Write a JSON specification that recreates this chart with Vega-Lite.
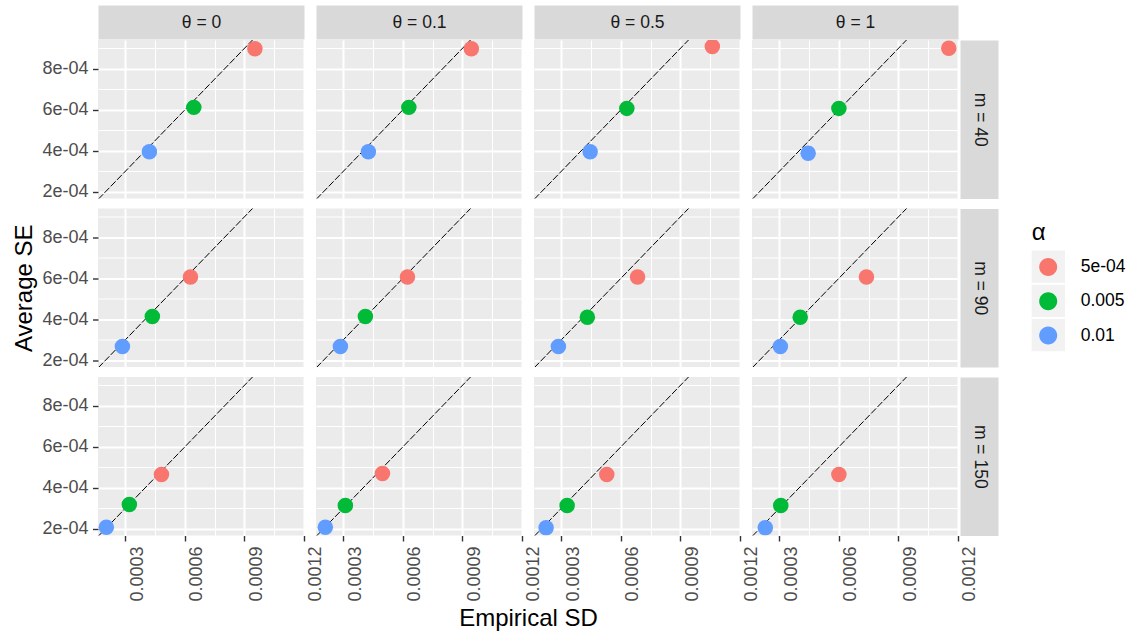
{
  "$schema": "https://vega.github.io/schema/vega-lite/v6.json",
  "padding": {"left": 12, "top": 13, "right": 5, "bottom": 2},
  "background": "white",
  "bounds": "flush",
  "spacing": {"row": 9.5, "column": 12},
  "columns": 4,
  "resolve": {"scale": {"color": "shared"}, "legend": {"color": "shared"}},
  "config": {
    "view": {"fill": "#EBEBEB", "stroke": null},
    "font": "Liberation Sans"
  },
  "datasets": {
    "pts": [
      {"theta": 0, "m": 40, "alpha": "5e-04", "sd": 0.000953, "se": 0.000898},
      {"theta": 0, "m": 40, "alpha": "0.005", "sd": 0.000645, "se": 0.000612},
      {"theta": 0, "m": 40, "alpha": "0.01", "sd": 0.000421, "se": 0.000395},
      {"theta": 0.1, "m": 40, "alpha": "5e-04", "sd": 0.000945, "se": 0.000898},
      {"theta": 0.1, "m": 40, "alpha": "0.005", "sd": 0.00063, "se": 0.000612},
      {"theta": 0.1, "m": 40, "alpha": "0.01", "sd": 0.000426, "se": 0.000395},
      {"theta": 0.5, "m": 40, "alpha": "5e-04", "sd": 0.001061, "se": 0.000909},
      {"theta": 0.5, "m": 40, "alpha": "0.005", "sd": 0.00063, "se": 0.000607},
      {"theta": 0.5, "m": 40, "alpha": "0.01", "sd": 0.000445, "se": 0.000395},
      {"theta": 1, "m": 40, "alpha": "5e-04", "sd": 0.001154, "se": 0.000901},
      {"theta": 1, "m": 40, "alpha": "0.005", "sd": 0.0006, "se": 0.000607},
      {"theta": 1, "m": 40, "alpha": "0.01", "sd": 0.000445, "se": 0.000388},
      {"theta": 0, "m": 90, "alpha": "5e-04", "sd": 0.000628, "se": 0.000606},
      {"theta": 0, "m": 90, "alpha": "0.005", "sd": 0.000436, "se": 0.000414},
      {"theta": 0, "m": 90, "alpha": "0.01", "sd": 0.000285, "se": 0.000267},
      {"theta": 0.1, "m": 90, "alpha": "5e-04", "sd": 0.000623, "se": 0.000606},
      {"theta": 0.1, "m": 90, "alpha": "0.005", "sd": 0.000411, "se": 0.000414},
      {"theta": 0.1, "m": 90, "alpha": "0.01", "sd": 0.000285, "se": 0.000267},
      {"theta": 0.5, "m": 90, "alpha": "5e-04", "sd": 0.000684, "se": 0.000606},
      {"theta": 0.5, "m": 90, "alpha": "0.005", "sd": 0.000431, "se": 0.00041},
      {"theta": 0.5, "m": 90, "alpha": "0.01", "sd": 0.000285, "se": 0.000267},
      {"theta": 1, "m": 90, "alpha": "5e-04", "sd": 0.000739, "se": 0.000606},
      {"theta": 1, "m": 90, "alpha": "0.005", "sd": 0.000405, "se": 0.00041},
      {"theta": 1, "m": 90, "alpha": "0.01", "sd": 0.000305, "se": 0.000267},
      {"theta": 0, "m": 150, "alpha": "5e-04", "sd": 0.000482, "se": 0.000465},
      {"theta": 0, "m": 150, "alpha": "0.005", "sd": 0.00032, "se": 0.000318},
      {"theta": 0, "m": 150, "alpha": "0.01", "sd": 0.000204, "se": 0.000207},
      {"theta": 0.1, "m": 150, "alpha": "5e-04", "sd": 0.000497, "se": 0.00047},
      {"theta": 0.1, "m": 150, "alpha": "0.005", "sd": 0.00031, "se": 0.000313},
      {"theta": 0.1, "m": 150, "alpha": "0.01", "sd": 0.000209, "se": 0.000207},
      {"theta": 0.5, "m": 150, "alpha": "5e-04", "sd": 0.000529, "se": 0.000465},
      {"theta": 0.5, "m": 150, "alpha": "0.005", "sd": 0.000329, "se": 0.000313},
      {"theta": 0.5, "m": 150, "alpha": "0.01", "sd": 0.000223, "se": 0.000205},
      {"theta": 1, "m": 150, "alpha": "5e-04", "sd": 0.0006, "se": 0.000465},
      {"theta": 1, "m": 150, "alpha": "0.005", "sd": 0.000307, "se": 0.000313},
      {"theta": 1, "m": 150, "alpha": "0.01", "sd": 0.000229, "se": 0.000205}
    ],
    "diag": [
      {"sd": 0.0001, "se": 0.0001},
      {"sd": 0.0012, "se": 0.0012}
    ]
  },
  "concat": [
    {
      "width": 206, "height": 158.5,
      "resolve": {"axis": {"x": "independent", "y": "independent"}},
      "layer": [
        {
          "data": {"name": "diag"},
          "mark": {"type": "line", "clip": true, "color": "black", "strokeWidth": 1, "strokeDash": [7, 2]},
          "encoding": {
            "x": {"field": "sd", "type": "quantitative", "scale": {"domain": [0.000162, 0.0012005], "nice": false, "zero": false},
              "axis": {"orient": "bottom", "values": [0.0003, 0.00045, 0.0006, 0.00075, 0.0009, 0.00105, 0.0012], "labels": false, "ticks": false, "domain": false, "title": null, "grid": true, "gridColor": "#FFFFFF", "gridWidth": {"condition": {"test": "round(datum.value*1e5) % 30 == 0", "value": 2}, "value": 1.1}}},
            "y": {"field": "se", "type": "quantitative", "scale": {"domain": [0.000167, 0.000941], "nice": false, "zero": false},
              "axis": {"orient": "left", "values": [0.0002, 0.0003, 0.0004, 0.0005, 0.0006, 0.0007, 0.0008, 0.0009], "labelExpr": "round(datum.value*1e4) % 2 == 0 ? round(datum.value*1e4) + 'e-04' : ''", "labelFontSize": 18, "labelColor": "#4D4D4D", "labelPadding": 4.5, "labelOverlap": false, "labelFlush": false, "labelBound": false, "ticks": true, "tickSize": 5.5, "tickWidth": 1.4, "tickColor": "#333333", "tickOpacity": {"condition": {"test": "round(datum.value*1e4) % 2 != 0", "value": 0}, "value": 1}, "domain": false, "title": null, "grid": true, "gridColor": "#FFFFFF", "gridWidth": {"condition": {"test": "round(datum.value*1e4) % 2 == 0", "value": 2}, "value": 1.1}}}
          }
        },
        {
          "data": {"name": "pts"},
          "transform": [{"filter": "datum.theta == 0 && datum.m == 40"}],
          "mark": {"type": "circle", "size": 240, "opacity": 1, "clip": true},
          "encoding": {
            "x": {"field": "sd", "type": "quantitative", "scale": {"domain": [0.000162, 0.0012005], "nice": false, "zero": false},
              "axis": {"orient": "top", "offset": 18, "domain": true, "domainColor": "#D9D9D9", "domainWidth": 34, "domainCap": "butt", "ticks": false, "labels": false, "grid": false, "title": "θ = 0", "titleFontSize": 17.5, "titleFontWeight": "normal", "titleColor": "#1A1A1A", "titleY": 0, "titleBaseline": "middle", "titlePadding": 0}},
            "y": {"field": "se", "type": "quantitative", "scale": {"domain": [0.000167, 0.000941], "nice": false, "zero": false}, "axis": null},
            "color": {"field": "alpha", "type": "nominal",
              "scale": {"domain": ["5e-04", "0.005", "0.01"], "range": ["#F8766D", "#00BA38", "#619CFF"]},
              "legend": {"orient": "none", "legendX": 933.7, "legendY": 180.5, "title": "α", "titleFontSize": 24, "titleFontWeight": "normal", "titleColor": "#000000", "titlePadding": 6,
                "labelFontSize": 17.5, "labelColor": "#000000",
                "symbolType": "M-1,-0.955M1,0.955M0.545,0A0.545,0.545,0,1,1,-0.545,0A0.545,0.545,0,1,1,0.545,0Z",
                "symbolSize": 1089, "symbolStrokeWidth": 0, "symbolOpacity": 1, "rowPadding": 1.3, "labelOffset": 16,
                "encode": {
                  "entries": {"update": {"fill": {"value": {"gradient": "linear", "x1": 0, "y1": 0, "x2": 1, "y2": 0,
                    "stops": [{"offset": 0, "color": "#F2F2F2"}, {"offset": 0.358, "color": "#F2F2F2"}, {"offset": 0.358, "color": "#FFFFFF"}, {"offset": 1, "color": "#FFFFFF"}]}}}}
                }}}
          }
        }
      ]
    },
    {
      "width": 206, "height": 158.5,
      "resolve": {"axis": {"x": "independent", "y": "independent"}},
      "layer": [
        {
          "data": {"name": "diag"},
          "mark": {"type": "line", "clip": true, "color": "black", "strokeWidth": 1, "strokeDash": [7, 2]},
          "encoding": {
            "x": {"field": "sd", "type": "quantitative", "scale": {"domain": [0.000162, 0.0012005], "nice": false, "zero": false},
              "axis": {"orient": "bottom", "values": [0.0003, 0.00045, 0.0006, 0.00075, 0.0009, 0.00105, 0.0012], "labels": false, "ticks": false, "domain": false, "title": null, "grid": true, "gridColor": "#FFFFFF", "gridWidth": {"condition": {"test": "round(datum.value*1e5) % 30 == 0", "value": 2}, "value": 1.1}}},
            "y": {"field": "se", "type": "quantitative", "scale": {"domain": [0.000167, 0.000941], "nice": false, "zero": false},
              "axis": {"orient": "left", "values": [0.0002, 0.0003, 0.0004, 0.0005, 0.0006, 0.0007, 0.0008, 0.0009], "labels": false, "ticks": false, "domain": false, "title": null, "grid": true, "gridColor": "#FFFFFF", "gridWidth": {"condition": {"test": "round(datum.value*1e4) % 2 == 0", "value": 2}, "value": 1.1}}}
          }
        },
        {
          "data": {"name": "pts"},
          "transform": [{"filter": "datum.theta == 0.1 && datum.m == 40"}],
          "mark": {"type": "circle", "size": 240, "opacity": 1, "clip": true},
          "encoding": {
            "x": {"field": "sd", "type": "quantitative", "scale": {"domain": [0.000162, 0.0012005], "nice": false, "zero": false},
              "axis": {"orient": "top", "offset": 18, "domain": true, "domainColor": "#D9D9D9", "domainWidth": 34, "domainCap": "butt", "ticks": false, "labels": false, "grid": false, "title": "θ = 0.1", "titleFontSize": 17.5, "titleFontWeight": "normal", "titleColor": "#1A1A1A", "titleY": 0, "titleBaseline": "middle", "titlePadding": 0}},
            "y": {"field": "se", "type": "quantitative", "scale": {"domain": [0.000167, 0.000941], "nice": false, "zero": false}, "axis": null},
            "color": {"field": "alpha", "type": "nominal", "scale": {"domain": ["5e-04", "0.005", "0.01"], "range": ["#F8766D", "#00BA38", "#619CFF"]}}
          }
        }
      ]
    },
    {
      "width": 206, "height": 158.5,
      "resolve": {"axis": {"x": "independent", "y": "independent"}},
      "layer": [
        {
          "data": {"name": "diag"},
          "mark": {"type": "line", "clip": true, "color": "black", "strokeWidth": 1, "strokeDash": [7, 2]},
          "encoding": {
            "x": {"field": "sd", "type": "quantitative", "scale": {"domain": [0.000162, 0.0012005], "nice": false, "zero": false},
              "axis": {"orient": "bottom", "values": [0.0003, 0.00045, 0.0006, 0.00075, 0.0009, 0.00105, 0.0012], "labels": false, "ticks": false, "domain": false, "title": null, "grid": true, "gridColor": "#FFFFFF", "gridWidth": {"condition": {"test": "round(datum.value*1e5) % 30 == 0", "value": 2}, "value": 1.1}}},
            "y": {"field": "se", "type": "quantitative", "scale": {"domain": [0.000167, 0.000941], "nice": false, "zero": false},
              "axis": {"orient": "left", "values": [0.0002, 0.0003, 0.0004, 0.0005, 0.0006, 0.0007, 0.0008, 0.0009], "labels": false, "ticks": false, "domain": false, "title": null, "grid": true, "gridColor": "#FFFFFF", "gridWidth": {"condition": {"test": "round(datum.value*1e4) % 2 == 0", "value": 2}, "value": 1.1}}}
          }
        },
        {
          "data": {"name": "pts"},
          "transform": [{"filter": "datum.theta == 0.5 && datum.m == 40"}],
          "mark": {"type": "circle", "size": 240, "opacity": 1, "clip": true},
          "encoding": {
            "x": {"field": "sd", "type": "quantitative", "scale": {"domain": [0.000162, 0.0012005], "nice": false, "zero": false},
              "axis": {"orient": "top", "offset": 18, "domain": true, "domainColor": "#D9D9D9", "domainWidth": 34, "domainCap": "butt", "ticks": false, "labels": false, "grid": false, "title": "θ = 0.5", "titleFontSize": 17.5, "titleFontWeight": "normal", "titleColor": "#1A1A1A", "titleY": 0, "titleBaseline": "middle", "titlePadding": 0}},
            "y": {"field": "se", "type": "quantitative", "scale": {"domain": [0.000167, 0.000941], "nice": false, "zero": false}, "axis": null},
            "color": {"field": "alpha", "type": "nominal", "scale": {"domain": ["5e-04", "0.005", "0.01"], "range": ["#F8766D", "#00BA38", "#619CFF"]}}
          }
        }
      ]
    },
    {
      "width": 206, "height": 158.5,
      "resolve": {"axis": {"x": "independent", "y": "independent"}},
      "layer": [
        {
          "data": {"name": "diag"},
          "mark": {"type": "line", "clip": true, "color": "black", "strokeWidth": 1, "strokeDash": [7, 2]},
          "encoding": {
            "x": {"field": "sd", "type": "quantitative", "scale": {"domain": [0.000162, 0.0012005], "nice": false, "zero": false},
              "axis": {"orient": "bottom", "values": [0.0003, 0.00045, 0.0006, 0.00075, 0.0009, 0.00105, 0.0012], "labels": false, "ticks": false, "domain": false, "title": null, "grid": true, "gridColor": "#FFFFFF", "gridWidth": {"condition": {"test": "round(datum.value*1e5) % 30 == 0", "value": 2}, "value": 1.1}}},
            "y": {"field": "se", "type": "quantitative", "scale": {"domain": [0.000167, 0.000941], "nice": false, "zero": false},
              "axis": {"orient": "left", "values": [0.0002, 0.0003, 0.0004, 0.0005, 0.0006, 0.0007, 0.0008, 0.0009], "labels": false, "ticks": false, "domain": false, "title": null, "grid": true, "gridColor": "#FFFFFF", "gridWidth": {"condition": {"test": "round(datum.value*1e4) % 2 == 0", "value": 2}, "value": 1.1}}}
          }
        },
        {
          "data": {"name": "pts"},
          "transform": [{"filter": "datum.theta == 1 && datum.m == 40"}],
          "mark": {"type": "circle", "size": 240, "opacity": 1, "clip": true},
          "encoding": {
            "x": {"field": "sd", "type": "quantitative", "scale": {"domain": [0.000162, 0.0012005], "nice": false, "zero": false},
              "axis": {"orient": "top", "offset": 18, "domain": true, "domainColor": "#D9D9D9", "domainWidth": 34, "domainCap": "butt", "ticks": false, "labels": false, "grid": false, "title": "θ = 1", "titleFontSize": 17.5, "titleFontWeight": "normal", "titleColor": "#1A1A1A", "titleY": 0, "titleBaseline": "middle", "titlePadding": 0}},
            "y": {"field": "se", "type": "quantitative", "scale": {"domain": [0.000167, 0.000941], "nice": false, "zero": false},
              "axis": {"orient": "right", "offset": 21, "domain": true, "domainColor": "#D9D9D9", "domainWidth": 38, "domainCap": "butt", "ticks": false, "labels": false, "grid": false, "title": "m = 40", "titleFontSize": 17.5, "titleFontWeight": "normal", "titleColor": "#1A1A1A", "titleAngle": 90, "titleX": 0, "titleY": 79.25, "titleBaseline": "middle", "titleAlign": "center", "titlePadding": 0}},
            "color": {"field": "alpha", "type": "nominal", "scale": {"domain": ["5e-04", "0.005", "0.01"], "range": ["#F8766D", "#00BA38", "#619CFF"]}}
          }
        }
      ]
    },
    {
      "width": 206, "height": 158.5,
      "resolve": {"axis": {"x": "independent", "y": "independent"}},
      "layer": [
        {
          "data": {"name": "diag"},
          "mark": {"type": "line", "clip": true, "color": "black", "strokeWidth": 1, "strokeDash": [7, 2]},
          "encoding": {
            "x": {"field": "sd", "type": "quantitative", "scale": {"domain": [0.000162, 0.0012005], "nice": false, "zero": false},
              "axis": {"orient": "bottom", "values": [0.0003, 0.00045, 0.0006, 0.00075, 0.0009, 0.00105, 0.0012], "labels": false, "ticks": false, "domain": false, "title": null, "grid": true, "gridColor": "#FFFFFF", "gridWidth": {"condition": {"test": "round(datum.value*1e5) % 30 == 0", "value": 2}, "value": 1.1}}},
            "y": {"field": "se", "type": "quantitative", "scale": {"domain": [0.000167, 0.000941], "nice": false, "zero": false},
              "axis": {"orient": "left", "values": [0.0002, 0.0003, 0.0004, 0.0005, 0.0006, 0.0007, 0.0008, 0.0009], "labelExpr": "round(datum.value*1e4) % 2 == 0 ? round(datum.value*1e4) + 'e-04' : ''", "labelFontSize": 18, "labelColor": "#4D4D4D", "labelPadding": 4.5, "labelOverlap": false, "labelFlush": false, "labelBound": false, "ticks": true, "tickSize": 5.5, "tickWidth": 1.4, "tickColor": "#333333", "tickOpacity": {"condition": {"test": "round(datum.value*1e4) % 2 != 0", "value": 0}, "value": 1}, "domain": false, "title": "Average SE", "titleFontSize": 24, "titleFontWeight": "normal", "titleColor": "#000000", "titlePadding": 5, "grid": true, "gridColor": "#FFFFFF", "gridWidth": {"condition": {"test": "round(datum.value*1e4) % 2 == 0", "value": 2}, "value": 1.1}}}
          }
        },
        {
          "data": {"name": "pts"},
          "transform": [{"filter": "datum.theta == 0 && datum.m == 90"}],
          "mark": {"type": "circle", "size": 240, "opacity": 1, "clip": true},
          "encoding": {
            "x": {"field": "sd", "type": "quantitative", "scale": {"domain": [0.000162, 0.0012005], "nice": false, "zero": false}, "axis": null},
            "y": {"field": "se", "type": "quantitative", "scale": {"domain": [0.000167, 0.000941], "nice": false, "zero": false}, "axis": null},
            "color": {"field": "alpha", "type": "nominal", "scale": {"domain": ["5e-04", "0.005", "0.01"], "range": ["#F8766D", "#00BA38", "#619CFF"]}}
          }
        }
      ]
    },
    {
      "width": 206, "height": 158.5,
      "resolve": {"axis": {"x": "independent", "y": "independent"}},
      "layer": [
        {
          "data": {"name": "diag"},
          "mark": {"type": "line", "clip": true, "color": "black", "strokeWidth": 1, "strokeDash": [7, 2]},
          "encoding": {
            "x": {"field": "sd", "type": "quantitative", "scale": {"domain": [0.000162, 0.0012005], "nice": false, "zero": false},
              "axis": {"orient": "bottom", "values": [0.0003, 0.00045, 0.0006, 0.00075, 0.0009, 0.00105, 0.0012], "labels": false, "ticks": false, "domain": false, "title": null, "grid": true, "gridColor": "#FFFFFF", "gridWidth": {"condition": {"test": "round(datum.value*1e5) % 30 == 0", "value": 2}, "value": 1.1}}},
            "y": {"field": "se", "type": "quantitative", "scale": {"domain": [0.000167, 0.000941], "nice": false, "zero": false},
              "axis": {"orient": "left", "values": [0.0002, 0.0003, 0.0004, 0.0005, 0.0006, 0.0007, 0.0008, 0.0009], "labels": false, "ticks": false, "domain": false, "title": null, "grid": true, "gridColor": "#FFFFFF", "gridWidth": {"condition": {"test": "round(datum.value*1e4) % 2 == 0", "value": 2}, "value": 1.1}}}
          }
        },
        {
          "data": {"name": "pts"},
          "transform": [{"filter": "datum.theta == 0.1 && datum.m == 90"}],
          "mark": {"type": "circle", "size": 240, "opacity": 1, "clip": true},
          "encoding": {
            "x": {"field": "sd", "type": "quantitative", "scale": {"domain": [0.000162, 0.0012005], "nice": false, "zero": false}, "axis": null},
            "y": {"field": "se", "type": "quantitative", "scale": {"domain": [0.000167, 0.000941], "nice": false, "zero": false}, "axis": null},
            "color": {"field": "alpha", "type": "nominal", "scale": {"domain": ["5e-04", "0.005", "0.01"], "range": ["#F8766D", "#00BA38", "#619CFF"]}}
          }
        }
      ]
    },
    {
      "width": 206, "height": 158.5,
      "resolve": {"axis": {"x": "independent", "y": "independent"}},
      "layer": [
        {
          "data": {"name": "diag"},
          "mark": {"type": "line", "clip": true, "color": "black", "strokeWidth": 1, "strokeDash": [7, 2]},
          "encoding": {
            "x": {"field": "sd", "type": "quantitative", "scale": {"domain": [0.000162, 0.0012005], "nice": false, "zero": false},
              "axis": {"orient": "bottom", "values": [0.0003, 0.00045, 0.0006, 0.00075, 0.0009, 0.00105, 0.0012], "labels": false, "ticks": false, "domain": false, "title": null, "grid": true, "gridColor": "#FFFFFF", "gridWidth": {"condition": {"test": "round(datum.value*1e5) % 30 == 0", "value": 2}, "value": 1.1}}},
            "y": {"field": "se", "type": "quantitative", "scale": {"domain": [0.000167, 0.000941], "nice": false, "zero": false},
              "axis": {"orient": "left", "values": [0.0002, 0.0003, 0.0004, 0.0005, 0.0006, 0.0007, 0.0008, 0.0009], "labels": false, "ticks": false, "domain": false, "title": null, "grid": true, "gridColor": "#FFFFFF", "gridWidth": {"condition": {"test": "round(datum.value*1e4) % 2 == 0", "value": 2}, "value": 1.1}}}
          }
        },
        {
          "data": {"name": "pts"},
          "transform": [{"filter": "datum.theta == 0.5 && datum.m == 90"}],
          "mark": {"type": "circle", "size": 240, "opacity": 1, "clip": true},
          "encoding": {
            "x": {"field": "sd", "type": "quantitative", "scale": {"domain": [0.000162, 0.0012005], "nice": false, "zero": false}, "axis": null},
            "y": {"field": "se", "type": "quantitative", "scale": {"domain": [0.000167, 0.000941], "nice": false, "zero": false}, "axis": null},
            "color": {"field": "alpha", "type": "nominal", "scale": {"domain": ["5e-04", "0.005", "0.01"], "range": ["#F8766D", "#00BA38", "#619CFF"]}}
          }
        }
      ]
    },
    {
      "width": 206, "height": 158.5,
      "resolve": {"axis": {"x": "independent", "y": "independent"}},
      "layer": [
        {
          "data": {"name": "diag"},
          "mark": {"type": "line", "clip": true, "color": "black", "strokeWidth": 1, "strokeDash": [7, 2]},
          "encoding": {
            "x": {"field": "sd", "type": "quantitative", "scale": {"domain": [0.000162, 0.0012005], "nice": false, "zero": false},
              "axis": {"orient": "bottom", "values": [0.0003, 0.00045, 0.0006, 0.00075, 0.0009, 0.00105, 0.0012], "labels": false, "ticks": false, "domain": false, "title": null, "grid": true, "gridColor": "#FFFFFF", "gridWidth": {"condition": {"test": "round(datum.value*1e5) % 30 == 0", "value": 2}, "value": 1.1}}},
            "y": {"field": "se", "type": "quantitative", "scale": {"domain": [0.000167, 0.000941], "nice": false, "zero": false},
              "axis": {"orient": "left", "values": [0.0002, 0.0003, 0.0004, 0.0005, 0.0006, 0.0007, 0.0008, 0.0009], "labels": false, "ticks": false, "domain": false, "title": null, "grid": true, "gridColor": "#FFFFFF", "gridWidth": {"condition": {"test": "round(datum.value*1e4) % 2 == 0", "value": 2}, "value": 1.1}}}
          }
        },
        {
          "data": {"name": "pts"},
          "transform": [{"filter": "datum.theta == 1 && datum.m == 90"}],
          "mark": {"type": "circle", "size": 240, "opacity": 1, "clip": true},
          "encoding": {
            "x": {"field": "sd", "type": "quantitative", "scale": {"domain": [0.000162, 0.0012005], "nice": false, "zero": false}, "axis": null},
            "y": {"field": "se", "type": "quantitative", "scale": {"domain": [0.000167, 0.000941], "nice": false, "zero": false},
              "axis": {"orient": "right", "offset": 21, "domain": true, "domainColor": "#D9D9D9", "domainWidth": 38, "domainCap": "butt", "ticks": false, "labels": false, "grid": false, "title": "m = 90", "titleFontSize": 17.5, "titleFontWeight": "normal", "titleColor": "#1A1A1A", "titleAngle": 90, "titleX": 0, "titleY": 79.25, "titleBaseline": "middle", "titleAlign": "center", "titlePadding": 0}},
            "color": {"field": "alpha", "type": "nominal", "scale": {"domain": ["5e-04", "0.005", "0.01"], "range": ["#F8766D", "#00BA38", "#619CFF"]}}
          }
        }
      ]
    },
    {
      "width": 206, "height": 158.5,
      "resolve": {"axis": {"x": "independent", "y": "independent"}},
      "layer": [
        {
          "data": {"name": "diag"},
          "mark": {"type": "line", "clip": true, "color": "black", "strokeWidth": 1, "strokeDash": [7, 2]},
          "encoding": {
            "x": {"field": "sd", "type": "quantitative", "scale": {"domain": [0.000162, 0.0012005], "nice": false, "zero": false},
              "axis": {"orient": "bottom", "values": [0.0003, 0.00045, 0.0006, 0.00075, 0.0009, 0.00105, 0.0012], "labelExpr": "round(datum.value*1e5) % 30 == 0 ? format(datum.value, '.4f') : ''", "labelAngle": 270, "labelAlign": "right", "labelBaseline": "top", "labelOffset": 3, "labelFontSize": 18, "labelColor": "#4D4D4D", "labelPadding": 5, "labelOverlap": false, "labelFlush": false, "labelBound": false, "ticks": true, "tickSize": 5.5, "tickWidth": 1.4, "tickColor": "#333333", "tickOpacity": {"condition": {"test": "round(datum.value*1e5) % 30 != 0", "value": 0}, "value": 1}, "domain": false, "title": null, "grid": true, "gridColor": "#FFFFFF", "gridWidth": {"condition": {"test": "round(datum.value*1e5) % 30 == 0", "value": 2}, "value": 1.1}}},
            "y": {"field": "se", "type": "quantitative", "scale": {"domain": [0.000167, 0.000941], "nice": false, "zero": false},
              "axis": {"orient": "left", "values": [0.0002, 0.0003, 0.0004, 0.0005, 0.0006, 0.0007, 0.0008, 0.0009], "labelExpr": "round(datum.value*1e4) % 2 == 0 ? round(datum.value*1e4) + 'e-04' : ''", "labelFontSize": 18, "labelColor": "#4D4D4D", "labelPadding": 4.5, "labelOverlap": false, "labelFlush": false, "labelBound": false, "ticks": true, "tickSize": 5.5, "tickWidth": 1.4, "tickColor": "#333333", "tickOpacity": {"condition": {"test": "round(datum.value*1e4) % 2 != 0", "value": 0}, "value": 1}, "domain": false, "title": null, "grid": true, "gridColor": "#FFFFFF", "gridWidth": {"condition": {"test": "round(datum.value*1e4) % 2 == 0", "value": 2}, "value": 1.1}}}
          }
        },
        {
          "data": {"name": "pts"},
          "transform": [{"filter": "datum.theta == 0 && datum.m == 150"}],
          "mark": {"type": "circle", "size": 240, "opacity": 1, "clip": true},
          "encoding": {
            "x": {"field": "sd", "type": "quantitative", "scale": {"domain": [0.000162, 0.0012005], "nice": false, "zero": false}, "axis": null},
            "y": {"field": "se", "type": "quantitative", "scale": {"domain": [0.000167, 0.000941], "nice": false, "zero": false}, "axis": null},
            "color": {"field": "alpha", "type": "nominal", "scale": {"domain": ["5e-04", "0.005", "0.01"], "range": ["#F8766D", "#00BA38", "#619CFF"]}}
          }
        }
      ]
    },
    {
      "width": 206, "height": 158.5,
      "resolve": {"axis": {"x": "independent", "y": "independent"}},
      "layer": [
        {
          "data": {"name": "diag"},
          "mark": {"type": "line", "clip": true, "color": "black", "strokeWidth": 1, "strokeDash": [7, 2]},
          "encoding": {
            "x": {"field": "sd", "type": "quantitative", "scale": {"domain": [0.000162, 0.0012005], "nice": false, "zero": false},
              "axis": {"orient": "bottom", "values": [0.0003, 0.00045, 0.0006, 0.00075, 0.0009, 0.00105, 0.0012], "labelExpr": "round(datum.value*1e5) % 30 == 0 ? format(datum.value, '.4f') : ''", "labelAngle": 270, "labelAlign": "right", "labelBaseline": "top", "labelOffset": 3, "labelFontSize": 18, "labelColor": "#4D4D4D", "labelPadding": 5, "labelOverlap": false, "labelFlush": false, "labelBound": false, "ticks": true, "tickSize": 5.5, "tickWidth": 1.4, "tickColor": "#333333", "tickOpacity": {"condition": {"test": "round(datum.value*1e5) % 30 != 0", "value": 0}, "value": 1}, "domain": false, "title": "Empirical SD", "titleX": 212, "titleFontSize": 24, "titleFontWeight": "normal", "titleColor": "#000000", "titlePadding": 5, "grid": true, "gridColor": "#FFFFFF", "gridWidth": {"condition": {"test": "round(datum.value*1e5) % 30 == 0", "value": 2}, "value": 1.1}}},
            "y": {"field": "se", "type": "quantitative", "scale": {"domain": [0.000167, 0.000941], "nice": false, "zero": false},
              "axis": {"orient": "left", "values": [0.0002, 0.0003, 0.0004, 0.0005, 0.0006, 0.0007, 0.0008, 0.0009], "labels": false, "ticks": false, "domain": false, "title": null, "grid": true, "gridColor": "#FFFFFF", "gridWidth": {"condition": {"test": "round(datum.value*1e4) % 2 == 0", "value": 2}, "value": 1.1}}}
          }
        },
        {
          "data": {"name": "pts"},
          "transform": [{"filter": "datum.theta == 0.1 && datum.m == 150"}],
          "mark": {"type": "circle", "size": 240, "opacity": 1, "clip": true},
          "encoding": {
            "x": {"field": "sd", "type": "quantitative", "scale": {"domain": [0.000162, 0.0012005], "nice": false, "zero": false}, "axis": null},
            "y": {"field": "se", "type": "quantitative", "scale": {"domain": [0.000167, 0.000941], "nice": false, "zero": false}, "axis": null},
            "color": {"field": "alpha", "type": "nominal", "scale": {"domain": ["5e-04", "0.005", "0.01"], "range": ["#F8766D", "#00BA38", "#619CFF"]}}
          }
        }
      ]
    },
    {
      "width": 206, "height": 158.5,
      "resolve": {"axis": {"x": "independent", "y": "independent"}},
      "layer": [
        {
          "data": {"name": "diag"},
          "mark": {"type": "line", "clip": true, "color": "black", "strokeWidth": 1, "strokeDash": [7, 2]},
          "encoding": {
            "x": {"field": "sd", "type": "quantitative", "scale": {"domain": [0.000162, 0.0012005], "nice": false, "zero": false},
              "axis": {"orient": "bottom", "values": [0.0003, 0.00045, 0.0006, 0.00075, 0.0009, 0.00105, 0.0012], "labelExpr": "round(datum.value*1e5) % 30 == 0 ? format(datum.value, '.4f') : ''", "labelAngle": 270, "labelAlign": "right", "labelBaseline": "top", "labelOffset": 3, "labelFontSize": 18, "labelColor": "#4D4D4D", "labelPadding": 5, "labelOverlap": false, "labelFlush": false, "labelBound": false, "ticks": true, "tickSize": 5.5, "tickWidth": 1.4, "tickColor": "#333333", "tickOpacity": {"condition": {"test": "round(datum.value*1e5) % 30 != 0", "value": 0}, "value": 1}, "domain": false, "title": null, "grid": true, "gridColor": "#FFFFFF", "gridWidth": {"condition": {"test": "round(datum.value*1e5) % 30 == 0", "value": 2}, "value": 1.1}}},
            "y": {"field": "se", "type": "quantitative", "scale": {"domain": [0.000167, 0.000941], "nice": false, "zero": false},
              "axis": {"orient": "left", "values": [0.0002, 0.0003, 0.0004, 0.0005, 0.0006, 0.0007, 0.0008, 0.0009], "labels": false, "ticks": false, "domain": false, "title": null, "grid": true, "gridColor": "#FFFFFF", "gridWidth": {"condition": {"test": "round(datum.value*1e4) % 2 == 0", "value": 2}, "value": 1.1}}}
          }
        },
        {
          "data": {"name": "pts"},
          "transform": [{"filter": "datum.theta == 0.5 && datum.m == 150"}],
          "mark": {"type": "circle", "size": 240, "opacity": 1, "clip": true},
          "encoding": {
            "x": {"field": "sd", "type": "quantitative", "scale": {"domain": [0.000162, 0.0012005], "nice": false, "zero": false}, "axis": null},
            "y": {"field": "se", "type": "quantitative", "scale": {"domain": [0.000167, 0.000941], "nice": false, "zero": false}, "axis": null},
            "color": {"field": "alpha", "type": "nominal", "scale": {"domain": ["5e-04", "0.005", "0.01"], "range": ["#F8766D", "#00BA38", "#619CFF"]}}
          }
        }
      ]
    },
    {
      "width": 206, "height": 158.5,
      "resolve": {"axis": {"x": "independent", "y": "independent"}},
      "layer": [
        {
          "data": {"name": "diag"},
          "mark": {"type": "line", "clip": true, "color": "black", "strokeWidth": 1, "strokeDash": [7, 2]},
          "encoding": {
            "x": {"field": "sd", "type": "quantitative", "scale": {"domain": [0.000162, 0.0012005], "nice": false, "zero": false},
              "axis": {"orient": "bottom", "values": [0.0003, 0.00045, 0.0006, 0.00075, 0.0009, 0.00105, 0.0012], "labelExpr": "round(datum.value*1e5) % 30 == 0 ? format(datum.value, '.4f') : ''", "labelAngle": 270, "labelAlign": "right", "labelBaseline": "top", "labelOffset": 3, "labelFontSize": 18, "labelColor": "#4D4D4D", "labelPadding": 5, "labelOverlap": false, "labelFlush": false, "labelBound": false, "ticks": true, "tickSize": 5.5, "tickWidth": 1.4, "tickColor": "#333333", "tickOpacity": {"condition": {"test": "round(datum.value*1e5) % 30 != 0", "value": 0}, "value": 1}, "domain": false, "title": null, "grid": true, "gridColor": "#FFFFFF", "gridWidth": {"condition": {"test": "round(datum.value*1e5) % 30 == 0", "value": 2}, "value": 1.1}}},
            "y": {"field": "se", "type": "quantitative", "scale": {"domain": [0.000167, 0.000941], "nice": false, "zero": false},
              "axis": {"orient": "left", "values": [0.0002, 0.0003, 0.0004, 0.0005, 0.0006, 0.0007, 0.0008, 0.0009], "labels": false, "ticks": false, "domain": false, "title": null, "grid": true, "gridColor": "#FFFFFF", "gridWidth": {"condition": {"test": "round(datum.value*1e4) % 2 == 0", "value": 2}, "value": 1.1}}}
          }
        },
        {
          "data": {"name": "pts"},
          "transform": [{"filter": "datum.theta == 1 && datum.m == 150"}],
          "mark": {"type": "circle", "size": 240, "opacity": 1, "clip": true},
          "encoding": {
            "x": {"field": "sd", "type": "quantitative", "scale": {"domain": [0.000162, 0.0012005], "nice": false, "zero": false}, "axis": null},
            "y": {"field": "se", "type": "quantitative", "scale": {"domain": [0.000167, 0.000941], "nice": false, "zero": false},
              "axis": {"orient": "right", "offset": 21, "domain": true, "domainColor": "#D9D9D9", "domainWidth": 38, "domainCap": "butt", "ticks": false, "labels": false, "grid": false, "title": "m = 150", "titleFontSize": 17.5, "titleFontWeight": "normal", "titleColor": "#1A1A1A", "titleAngle": 90, "titleX": 0, "titleY": 79.25, "titleBaseline": "middle", "titleAlign": "center", "titlePadding": 0}},
            "color": {"field": "alpha", "type": "nominal", "scale": {"domain": ["5e-04", "0.005", "0.01"], "range": ["#F8766D", "#00BA38", "#619CFF"]}}
          }
        }
      ]
    }
  ]
}
